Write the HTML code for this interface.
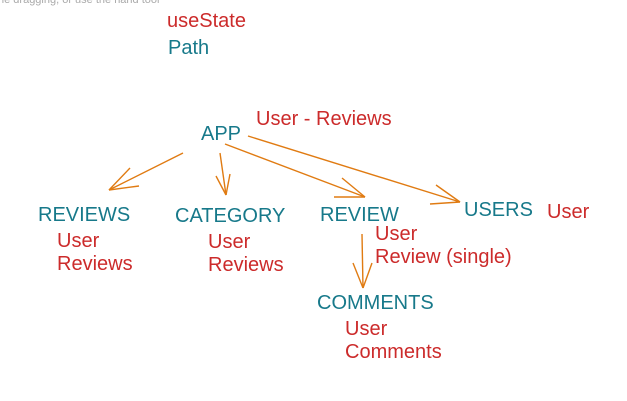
<!DOCTYPE html>
<html><head><meta charset="utf-8"><style>
html,body{margin:0;padding:0;background:#fff;width:627px;height:401px;overflow:hidden}
svg{display:block}
text{font-family:"Liberation Sans",sans-serif;font-size:20px}
.t{fill:#17798a}.r{fill:#cc2b2b}
line{stroke:#e07b12;stroke-width:1.4;fill:none}
</style></head><body>
<svg width="627" height="401" viewBox="0 0 627 401">
<text x="-2" y="3" style="font-size:11px;fill:#aaa">ne dragging, or use the hand tool</text>
<text class="r" x="167" y="27">useState</text>
<text class="t" x="168" y="54">Path</text>
<text class="t" x="201" y="140">APP</text>
<text class="r" x="256" y="125">User - Reviews</text>
<text class="t" x="38" y="221">REVIEWS</text>
<text class="r" x="57" y="247">User</text>
<text class="r" x="57" y="270">Reviews</text>
<text class="t" x="175" y="222">CATEGORY</text>
<text class="r" x="208" y="248">User</text>
<text class="r" x="208" y="271">Reviews</text>
<text class="t" x="320" y="221">REVIEW</text>
<text class="r" x="375" y="240">User</text>
<text class="r" x="375" y="263">Review (single)</text>
<text class="t" x="464" y="216">USERS</text>
<text class="r" x="547" y="218">User</text>
<text class="t" x="317" y="309">COMMENTS</text>
<text class="r" x="345" y="335">User</text>
<text class="r" x="345" y="358">Comments</text>
<!-- APP -> REVIEWS -->
<line x1="183" y1="153" x2="109" y2="190"/>
<line x1="109" y1="190" x2="130" y2="168"/>
<line x1="109" y1="190" x2="139" y2="186"/>
<!-- APP -> CATEGORY -->
<line x1="220" y1="153" x2="226" y2="195"/>
<line x1="226" y1="195" x2="216" y2="176"/>
<line x1="226" y1="195" x2="230" y2="174"/>
<!-- APP -> REVIEW -->
<line x1="225" y1="144" x2="365" y2="197"/>
<line x1="365" y1="197" x2="342" y2="178"/>
<line x1="365" y1="197" x2="334" y2="197"/>
<!-- APP -> USERS -->
<line x1="248" y1="136" x2="460" y2="202"/>
<line x1="460" y1="202" x2="436" y2="185"/>
<line x1="460" y1="202" x2="430" y2="204"/>
<!-- REVIEW -> COMMENTS -->
<line x1="362" y1="234" x2="363" y2="288"/>
<line x1="363" y1="288" x2="353" y2="263"/>
<line x1="363" y1="288" x2="372" y2="263"/>
</svg>
</body></html>
